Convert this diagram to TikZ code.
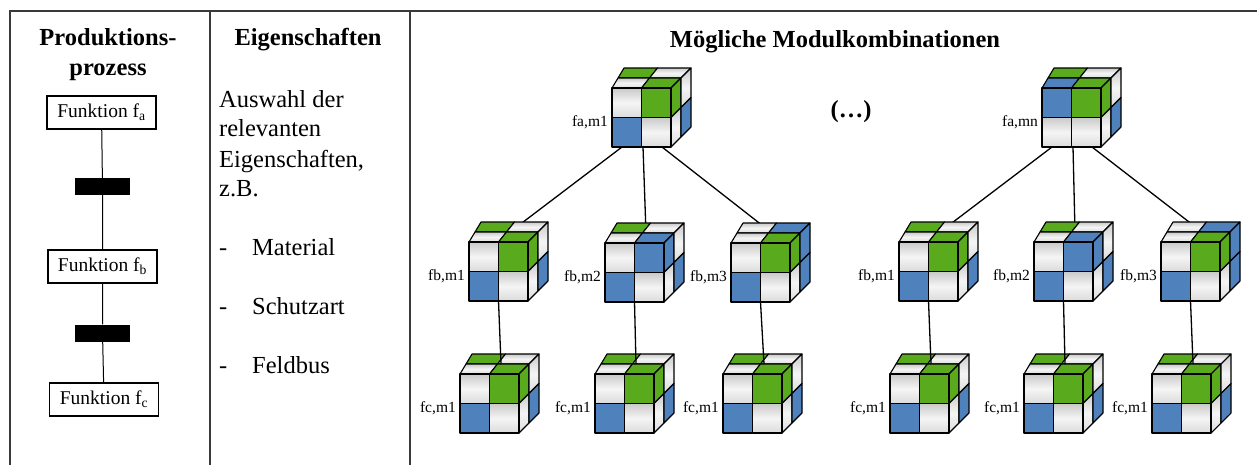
\documentclass[tikz,border=0pt]{standalone}
\usepackage{fontspec}
\setmainfont{Liberation Serif}

\definecolor{cubegreen}{HTML}{5AAA1E}
\definecolor{cubeblue}{HTML}{4F81BD}
\definecolor{rulegray}{HTML}{3A3A3A}

\pgfdeclarelayer{paper}
\pgfdeclarelayer{behind}
\pgfsetlayers{paper,behind,main}

\tikzset{
  rule/.style={draw=rulegray, line width=1.5pt},
  head/.style={font=\fontsize{24.5}{30}\selectfont\bfseries, inner sep=0pt},
  body/.style={font=\fontsize{24.5}{30}\selectfont, inner sep=0pt},
  fbox/.style={draw, line width=1.1pt, minimum width=109pt, minimum height=33pt,
    inner sep=0pt, font=\fontsize{19.5}{23}\selectfont},
  bar/.style={fill=black, minimum width=55pt, minimum height=17pt, inner sep=0pt},
  flow/.style={line width=1pt},
  link/.style={line width=1.3pt},
  cubelabel/.style={font=\fontsize{15.5}{18}\selectfont, inner sep=0pt},
  cellbase/.style={draw=black, line width=1.1pt, line join=round},
  cellg/.style={cellbase, top color=gray!42, bottom color=gray!28, middle color=gray!8},
  cellG/.style={cellbase, fill=cubegreen},
  cellB/.style={cellbase, fill=cubeblue},
}

% 2x2x2 module cube: name, front top-left corner, label,
% colours of front TL, front TR, front BL, front BR, back TL, back TR
\newcommand{\modcube}[9]{%
  \begin{scope}[shift={#2}]
    % top face, back row then front row
    \draw[cell#8] (6,-10) -- (37.5,-10) -- (45.5,-20) -- (12,-20) -- cycle;
    \draw[cell#9] (37.5,-10) -- (69,-10) -- (79,-20) -- (45.5,-20) -- cycle;
    \draw[cell#4] (0,0) -- (29.5,0) -- (37.5,-10) -- (6,-10) -- cycle;
    \draw[cell#5] (29.5,0) -- (59,0) -- (69,-10) -- (37.5,-10) -- cycle;
    % right face
    \draw[cell#5] (59,0) -- (69,-10) -- (69,19.5) -- (59,29.5) -- cycle;
    \draw[cell#9] (69,-10) -- (79,-20) -- (79,9.5) -- (69,19.5) -- cycle;
    \draw[cell#7] (59,29.5) -- (69,19.5) -- (69,49) -- (59,59) -- cycle;
    \draw[cellB] (69,19.5) -- (79,9.5) -- (79,39) -- (69,49) -- cycle;
    % front face
    \draw[cell#4] (0,0) rectangle (29.5,29.5);
    \draw[cell#5] (29.5,0) rectangle (59,29.5);
    \draw[cell#6] (0,29.5) rectangle (29.5,59);
    \draw[cell#7] (29.5,29.5) rectangle (59,59);
    % anchors for the links
    \coordinate (#1-top) at (41,-10);
    \coordinate (#1-bot) at (29.5,59);
    \coordinate (#1-bl) at (10,59);
    \coordinate (#1-bm) at (31,59);
    \coordinate (#1-br) at (50,59);
    \node[cubelabel, anchor=base east] (#1-label) at (-4,38) {#3};
  \end{scope}}

\begin{document}
\begin{tikzpicture}[x=1pt, y=-1pt]
  \useasboundingbox (0,0) rectangle (1257,464);
  \begin{pgfonlayer}{paper}
    \fill[white] (0,0) rectangle (1257,464);
  \end{pgfonlayer}

  % table frame
  \draw[rule] (10,470) -- (10,11) -- (1260,11);
  \draw[rule] (210,11) -- (210,470);
  \draw[rule] (410,11) -- (410,470);

  % column 1: production process
  \node[head, anchor=base] (h1a) at (108,45) {Produktions-};
  \node[head, anchor=base] (h1b) at (108,75) {prozess};
  \node[fbox] (fa) at (101.5,112.5) {Funktion f\textsubscript{a}};
  \node[bar] (r1) at (102.5,186.5) {};
  \node[fbox] (fb) at (102.5,266.5) {Funktion f\textsubscript{b}};
  \node[bar] (r2) at (102.5,333) {};
  \node[fbox] (fc) at (104,399.5) {Funktion f\textsubscript{c}};
  \draw[flow] (fa) -- (r1) -- (fb) -- (r2) -- (fc);

  % column 2: properties
  \node[head, anchor=base] (h2) at (308,45) {Eigenschaften};
  \node[body, anchor=base west] (t1) at (219,107) {Auswahl der};
  \node[body, anchor=base west] (t2) at (219,136) {relevanten};
  \node[body, anchor=base west] (t3) at (219,167) {Eigenschaften,};
  \node[body, anchor=base west] (t4) at (219,196) {z.B.};
  \node[body, anchor=base west] (d1) at (219,255) {-};
  \node[body, anchor=base west] (p1) at (252,255) {Material};
  \node[body, anchor=base west] (d2) at (219,314) {-};
  \node[body, anchor=base west] (p2) at (252,314) {Schutzart};
  \node[body, anchor=base west] (d3) at (219,373) {-};
  \node[body, anchor=base west] (p3) at (252,373) {Feldbus};

  % column 3: module combinations
  \node[head, anchor=base] (h3) at (835,47) {Mögliche Modulkombinationen};
  \node[head] (dots) at (851,112) {(…)};

  % top level
  \modcube{fa1}{(612,88)}{fa,m1}{g}{G}{B}{g}{G}{g}
  \modcube{fan}{(1042,88)}{fa,mn}{B}{G}{g}{g}{G}{g}

  % second level
  \modcube{fb1L}{(469,242)}{fb,m1}{g}{G}{B}{g}{G}{g}
  \modcube{fb2L}{(605,243)}{fb,m2}{g}{B}{B}{g}{G}{g}
  \modcube{fb3L}{(731,243)}{fb,m3}{g}{G}{B}{g}{g}{B}
  \modcube{fb1R}{(899,242)}{fb,m1}{g}{G}{B}{g}{G}{g}
  \modcube{fb2R}{(1034,242)}{fb,m2}{g}{B}{B}{g}{G}{g}
  \modcube{fb3R}{(1161,242)}{fb,m3}{g}{G}{B}{g}{g}{B}

  % third level
  \modcube{fc1L}{(460,374)}{fc,m1}{g}{G}{B}{g}{G}{g}
  \modcube{fc2L}{(595,374)}{fc,m1}{g}{G}{B}{g}{G}{g}
  \modcube{fc3L}{(723,374)}{fc,m1}{g}{G}{B}{g}{G}{g}
  \modcube{fc1R}{(890,374)}{fc,m1}{g}{G}{B}{g}{G}{g}
  \modcube{fc2R}{(1024,374)}{fc,m1}{g}{G}{B}{g}{G}{g}
  \modcube{fc3R}{(1152,374)}{fc,m1}{g}{G}{B}{g}{G}{g}

  % links from the top cubes run behind the second level
  \begin{pgfonlayer}{behind}
    \draw[link] (fa1-bl) -- (fb1L-top);
    \draw[link] (fa1-bm) -- (fb2L-top);
    \draw[link] (fa1-br) -- (fb3L-top);
    \draw[link] (fan-bl) -- (fb1R-top);
    \draw[link] (fan-bm) -- (fb2R-top);
    \draw[link] (fan-br) -- (fb3R-top);
  \end{pgfonlayer}

  % links from the second to the third level
  \draw[link] (fb1L-bot) -- (fc1L-top);
  \draw[link] (fb2L-bot) -- (fc2L-top);
  \draw[link] (fb3L-bot) -- (fc3L-top);
  \draw[link] (fb1R-bot) -- (fc1R-top);
  \draw[link] (fb2R-bot) -- (fc2R-top);
  \draw[link] (fb3R-bot) -- (fc3R-top);
\end{tikzpicture}
\end{document}
